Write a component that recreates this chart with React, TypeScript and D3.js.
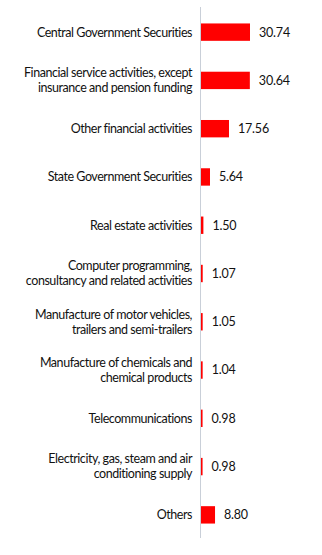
import React from "react";
import * as d3 from "d3";

const categories: string[][] = [
  ["Central Government Securities"],
  ["Financial service activities, except", "insurance and pension funding"],
  ["Other financial activities"],
  ["State Government Securities"],
  ["Real estate activities"],
  ["Computer programming,", "consultancy and related activities"],
  ["Manufacture of motor vehicles,", "trailers and semi-trailers"],
  ["Manufacture of chemicals and", "chemical products"],
  ["Telecommunications"],
  ["Electricity, gas, steam and air", "conditioning supply"],
  ["Others"],
];
const values: number[] = [30.74, 30.64, 17.56, 5.64, 1.5, 1.07, 1.05, 1.04, 0.98, 0.98, 8.8];
const valueLabels: string[] = ["30.74", "30.64", "17.56", "5.64", "1.50", "1.07", "1.05", "1.04", "0.98", "0.98", "8.80"];

export default function App() {
  const W = 322;
  const H = 555;
  const idx = values.map((_, i) => String(i));
  const y = d3.scaleBand().domain(idx).range([8, 539]).paddingInner(0.64).paddingOuter(0.32);
  const x = d3.scaleLinear().domain([0, 30.74]).range([201, 250]);
  const font = "Lato, 'Open Sans', sans-serif";
  return (
    <svg width={W} height={H} style={{ position: "absolute", left: 0, top: 0, background: "#fff" }}>
      <line x1={200.5} x2={200.5} y1={7} y2={538} stroke="#c9cfd8" strokeWidth={1} />
      {values.map((v, i) => {
        const by = y(String(i))!;
        const cy = by + y.bandwidth() / 2;
        const lines = categories[i];
        const lh = 15;
        return (
          <g key={i}>
            <rect x={x(0)} y={by} width={x(v) - x(0)} height={y.bandwidth()} fill="#ff0000" />
            <text x={x(v) + 9} y={cy} dy="0.35em" fontFamily={font} fontSize={12.5} letterSpacing={-0.2} fill="#111">
              {valueLabels[i]}
            </text>
            <text x={192} fontFamily={font} fontSize={12.5} letterSpacing={-0.45} fill="#111" textAnchor="end">
              {lines.map((l, j) => (
                <tspan key={j} x={192} y={cy + (j - (lines.length - 1) / 2) * lh} dy="0.35em">
                  {l}
                </tspan>
              ))}
            </text>
          </g>
        );
      })}
    </svg>
  );
}
